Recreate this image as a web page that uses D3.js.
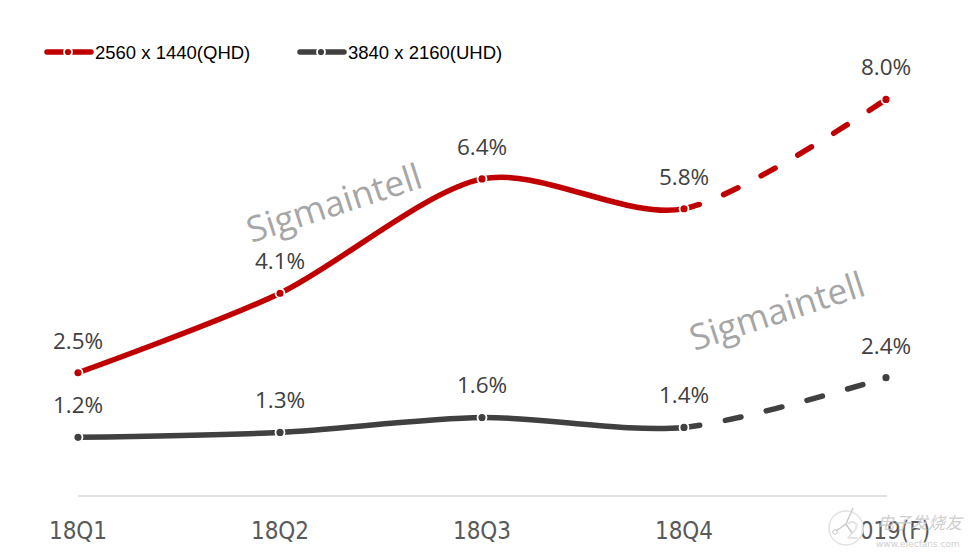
<!DOCTYPE html>
<html><head><meta charset="utf-8">
<script src="https://cdn.jsdelivr.net/npm/d3@7"></script>
<style>html,body{margin:0;padding:0;background:#fff;}svg{display:block;}</style>
</head><body>
<svg id="chart" width="978" height="558"></svg>
<script>
const categories = ["18Q1", "18Q2", "18Q3", "18Q4", "2019(F)"];
const qhdValues = [2.5, 4.1, 6.4, 5.8, 8.0];
const uhdValues = [1.2, 1.3, 1.6, 1.4, 2.4];
const seriesNames = ["2560 x 1440(QHD)", "3840 x 2160(UHD)"];
const valueLabelsQHD = ["2.5%", "4.1%", "6.4%", "5.8%", "8.0%"];
const valueLabelsUHD = ["1.2%", "1.3%", "1.6%", "1.4%", "2.4%"];

const colors = ["#c00000", "#404040"];
const svg = d3.select("#chart");
const W = 978, H = 558;

const x = d3.scalePoint().domain(categories).range([78, 886]);
const y = d3.scaleLinear().domain([0, 9]).range([497, 497 - 9 * 49.7]);

// axis line
svg.append("line").attr("x1", x(categories[0])).attr("x2", x(categories[4]) + 1)
  .attr("y1", y(0) - 1).attr("y2", y(0) - 1)
  .attr("stroke", "#d9d9d9").attr("stroke-width", 1.5);

// category labels
svg.append("g").selectAll("text").data(categories).join("text")
  .attr("x", d => x(d) + (d === "2019(F)" ? 2 : 0)).attr("y", 539)
  .attr("text-anchor", "middle")
  .attr("font-family", "'Liberation Sans Narrow','DejaVu Sans Condensed',sans-serif")
  .attr("font-size", 24).attr("fill", "#595959")
  .text(d => d);

// watermarks
function sigma(cx, cy) {
  svg.append("text").attr("transform", `translate(${cx},${cy}) rotate(-18)`)
    .attr("text-anchor", "middle").attr("dominant-baseline", "middle")
    .attr("font-family", "'Open Sans','Noto Sans',sans-serif").attr("font-size", 35.5)
    .attr("fill", "#a6a6a6").text("Sigmaintell");
}
sigma(335, 206);
sigma(778, 314);

const line = d3.line().x((d, i) => x(categories[i])).y(d => y(d))
  .curve(d3.curveCardinal.tension(0.15));

svg.append("defs").html(`
  <clipPath id="solidClip"><rect x="0" y="0" width="${x(categories[3])}" height="${H}"/></clipPath>
  <clipPath id="dashClip"><rect x="${x(categories[3])}" y="0" width="${W}" height="${H}"/></clipPath>`);

function drawSeries(vals, color) {
  const g = svg.append("g");
  const solid = g.append("path").attr("d", line(vals)).attr("fill", "none")
    .attr("stroke", color).attr("stroke-width", 5.5).attr("clip-path", "url(#solidClip)");
  const node = solid.node();
  const total = node.getTotalLength();
  const tx = x(categories[3]);
  let lo = 0, hi = total;
  for (let k = 0; k < 40; k++) {
    const mid = (lo + hi) / 2;
    if (node.getPointAtLength(mid).x < tx) lo = mid; else hi = mid;
  }
  g.append("path").attr("d", line(vals)).attr("fill", "none")
    .attr("stroke", color).attr("stroke-width", 5.5).attr("stroke-linecap", "round")
    .attr("stroke-dasharray", "16,26").attr("stroke-dashoffset", -lo)
    .attr("clip-path", "url(#dashClip)");
  g.selectAll("circle").data(vals).join("circle")
    .attr("cx", (d, i) => x(categories[i])).attr("cy", d => y(d))
    .attr("r", 4.5).attr("fill", color).attr("stroke", "#fff").attr("stroke-width", 1.8);
}
drawSeries(qhdValues, colors[0]);
drawSeries(uhdValues, colors[1]);

function drawLabels(vals, labels) {
  svg.append("g").selectAll("text").data(vals).join("text")
    .attr("x", (d, i) => x(categories[i])).attr("y", d => y(d) - 24)
    .attr("text-anchor", "middle")
    .attr("font-family", "'Open Sans','Noto Sans',sans-serif").attr("font-size", 22.5)
    .attr("fill", "#404040").text((d, i) => labels[i]);
}
drawLabels(qhdValues, valueLabelsQHD);
drawLabels(uhdValues, valueLabelsUHD);

// legend
const legendItems = [{x: 44, name: seriesNames[0], c: colors[0]}, {x: 297, name: seriesNames[1], c: colors[1]}];
const lg = svg.append("g");
legendItems.forEach(it => {
  lg.append("line").attr("x1", it.x + 3).attr("x2", it.x + 47).attr("y1", 52).attr("y2", 52)
    .attr("stroke", it.c).attr("stroke-width", 5.5).attr("stroke-linecap", "round");
  lg.append("circle").attr("cx", it.x + 24).attr("cy", 52).attr("r", 4)
    .attr("fill", it.c).attr("stroke", "#fff").attr("stroke-width", 1.8);
  lg.append("text").attr("x", it.x + 51).attr("y", 58.5)
    .attr("font-family", "'Liberation Sans',Arial,sans-serif").attr("font-size", 18.5)
    .attr("fill", "#000").text(it.name);
});

// elecfans watermark
const wm = svg.append("g");
wm.append("circle").attr("cx", 846).attr("cy", 528).attr("r", 17)
  .attr("fill", "#fff").attr("fill-opacity", 0.85).attr("stroke", "#e3e3e3").attr("stroke-width", 1.5);
wm.append("path").attr("d", "M836,531 L846,524 L852,533 M846,524 L853,508")
  .attr("fill", "none").attr("stroke", "#c8c8c8").attr("stroke-width", 1.4);
wm.append("circle").attr("cx", 835).attr("cy", 532).attr("r", 2.3).attr("fill", "none").attr("stroke", "#c8c8c8");
wm.append("text").attr("x", 877).attr("y", 529).attr("text-anchor", "start")
  .attr("font-family", "'Noto Sans CJK SC',sans-serif").attr("font-size", 17)
  .attr("font-style", "italic").attr("fill", "#c8c8c8").attr("fill-opacity", 0.9).text("电子发烧友");
wm.append("text").attr("x", 876).attr("y", 547)
  .attr("font-family", "'DejaVu Sans',sans-serif").attr("font-size", 9)
  .attr("fill", "#d0d0d0").text("www.elecfans.com");
</script>
</body></html>
